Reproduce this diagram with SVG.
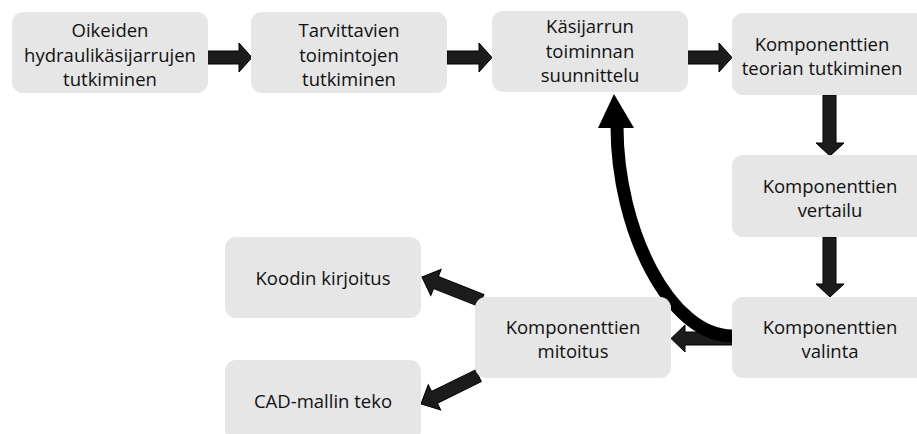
<svg xmlns="http://www.w3.org/2000/svg" width="917" height="434" viewBox="0 0 917 434">
<style>
.box{fill:#e6e6e6}
.t{font-family:"Open Sans","Noto Sans","Liberation Sans",sans-serif;font-size:18.5px;fill:#111;text-anchor:middle}
.arr{fill:#1c1c1c;stroke:#000;stroke-width:1}
</style>
<g id="connectors">
<polygon class="arr" points="207,51 239,51 239,43 252,57.5 239,72 239,64 207,64"/>
<polygon class="arr" points="447,51 479,51 479,43 492,57.5 479,72 479,64 447,64"/>
<polygon class="arr" points="687,51 719,51 719,43 732,57.5 719,72 719,64 687,64"/>
<polygon class="arr" points="823,95 836,95 836,143 844,143 830,156 816,143 823,143"/>
<polygon class="arr" points="823,237 836,237 836,284 844,284 830,297 816,284 823,284"/>
<polygon class="arr" points="732,332 685,332 685,325 671,338.5 685,352 685,345 732,345"/>
<path d="M732,336 C670,336 617,230 617,126" fill="none" stroke="#000" stroke-width="13"/>
<polygon points="598,128 634,128 614,94" fill="#000"/>
<g transform="translate(422,277) rotate(201.6)"><polygon class="arr" points="-64,-6.5 -15,-6.5 -15,-14 0,0 -15,14 -15,6.5 -64,6.5"/></g>
<g transform="translate(421,404) rotate(153.8)"><polygon class="arr" points="-64,-6.5 -15,-6.5 -15,-14 0,0 -15,14 -15,6.5 -64,6.5"/></g>
</g>
<g id="n1"><rect class="box" x="12" y="12" width="196" height="81" rx="11"/>
<text class="t" x="110" y="37">Oikeiden</text><text class="t" x="110" y="61.5">hydraulikäsijarrujen</text><text class="t" x="110" y="86">tutkiminen</text></g>
<g id="n2"><rect class="box" x="251" y="12" width="196" height="81" rx="11"/>
<text class="t" x="349" y="37">Tarvittavien</text><text class="t" x="349" y="61.5">toimintojen</text><text class="t" x="349" y="86">tutkiminen</text></g>
<g id="n3"><rect class="box" x="492" y="11" width="196" height="81" rx="11"/>
<text class="t" x="590" y="33">Käsijarrun</text><text class="t" x="590" y="57.5">toiminnan</text><text class="t" x="590" y="82">suunnittelu</text></g>
<g id="n4"><rect class="box" x="732" y="13" width="196" height="82" rx="11"/>
<text class="t" x="822" y="50.5">Komponenttien</text><text class="t" x="822" y="74.5">teorian tutkiminen</text></g>
<g id="n5"><rect class="box" x="732" y="155" width="196" height="82" rx="11"/>
<text class="t" x="830" y="193">Komponenttien</text><text class="t" x="830" y="217">vertailu</text></g>
<g id="n6"><rect class="box" x="732" y="297" width="196" height="81" rx="11"/>
<text class="t" x="830" y="334">Komponenttien</text><text class="t" x="830" y="358">valinta</text></g>
<g id="n7"><rect class="box" x="475" y="297" width="196" height="81" rx="11"/>
<text class="t" x="573" y="334">Komponenttien</text><text class="t" x="573" y="358">mitoitus</text></g>
<g id="n8"><rect class="box" x="225" y="237" width="196" height="81" rx="11"/>
<text class="t" x="323" y="285">Koodin kirjoitus</text></g>
<g id="n9"><rect class="box" x="225" y="360" width="196" height="81" rx="11"/>
<text class="t" x="323" y="408">CAD-mallin teko</text></g>
</svg>
